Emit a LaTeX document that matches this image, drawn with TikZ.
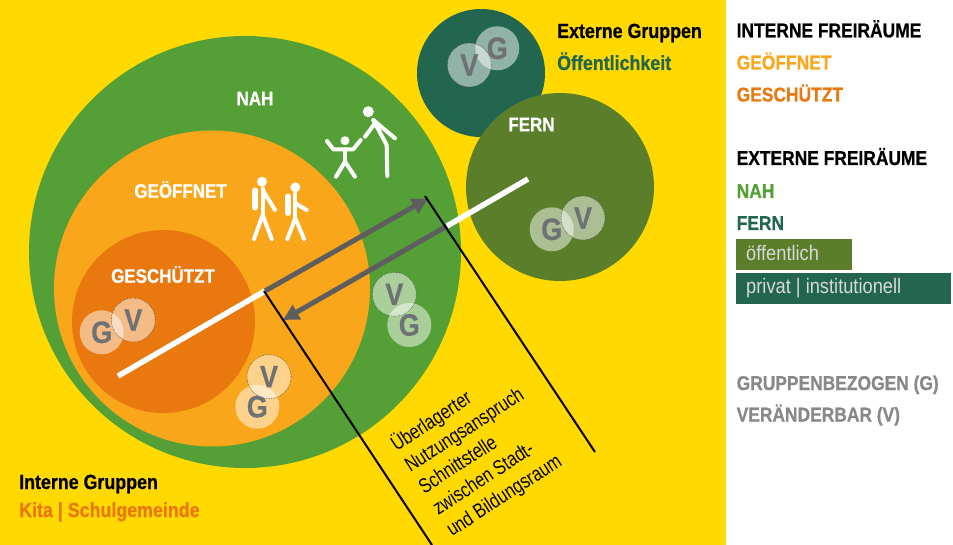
\documentclass[tikz,border=0pt]{standalone}
\usepackage{fontspec}
\setmainfont[FakeStretch=0.87,BoldFeatures={FakeBold=0.6}]{Liberation Sans}
\newfontfamily\narrowfont[FakeStretch=0.8]{Liberation Sans}
\usetikzlibrary{arrows.meta}
\definecolor{yel}{HTML}{FFD900}
\definecolor{nahg}{HTML}{55A036}
\definecolor{geo}{HTML}{F9A61A}
\definecolor{ges}{HTML}{E9780F}
\definecolor{dkg}{HTML}{23664F}
\definecolor{oli}{HTML}{5A7E2A}
\definecolor{ltr}{HTML}{6F7275}
\definecolor{gtx}{HTML}{87888A}
\definecolor{arr}{HTML}{5E5E5E}
\tikzset{
 disc/.style={circle,minimum size=#1,inner sep=0pt,outer sep=0pt},
 gc/.style={circle,minimum size=44pt,inner sep=0pt,fill=white,fill opacity=.5,text opacity=1,text=ltr,font=\bfseries\fontsize{31}{31}\selectfont},
 vc/.style={gc,draw=black!75,densely dotted,line width=.6pt,draw opacity=.85},
 captxt/.style={anchor=base west,font=\bfseries\fontsize{20}{20}\selectfont,inner sep=0pt},
 sml/.style={anchor=base west,font=\bfseries\fontsize{20.5}{20.5}\selectfont,inner sep=0pt},
 lbl/.style={text=white,font=\bfseries\fontsize{19.5}{19.5}\selectfont,inner sep=0pt},
 leg/.style={anchor=base west,text=white!85!black,font=\fontsize{21}{21}\selectfont,inner sep=0pt},
 fig/.style={draw=white,line width=4pt,line cap=round,line join=round},
 headc/.style={fill=white},
 wline/.style={draw=white,line width=5.5pt},
 garr/.style={draw=arr,line width=5pt,-{Triangle[length=16pt,width=16pt]},shorten >=0pt},
 bline/.style={draw=black,line width=2pt}
}
\begin{document}
\begin{tikzpicture}[x=1pt,y=-1pt]
\useasboundingbox (0,0) rectangle (953,545);
\fill[yel] (0,0) rectangle (726,545);
\fill[white] (726,0) rectangle (953,545);
% big discs
\node[disc=432pt,fill=nahg] (nah) at (245,252) {};
\node[disc=316pt,fill=geo] (geoe) at (212,288.5) {};
\node[disc=183pt,fill=ges] (gesc) at (163.5,321.5) {};
\node[disc=128pt,fill=dkg] (oeff) at (481,73) {};
\node[disc=188pt,fill=oli] (fern) at (560,187) {};
% coordinates
\coordinate (wa) at (118,376);
\coordinate (wb) at (265,291);
\coordinate (wc) at (447,226);
\coordinate (wd) at (528,179);
\coordinate (tipa) at (428,198.5);
\coordinate (tipb) at (283,320);
\coordinate (bla) at (264,291);
\coordinate (blb) at (432,545);
\coordinate (blc) at (425,196);
\coordinate (bld) at (595,452);
\draw[garr] (wb) -- (tipa);
\draw[garr] (wc) -- (tipb);
\draw[wline] (wa) -- (wb);
\draw[wline] (wc) -- (wd);
\draw[bline] (bla) -- (blb);
\draw[bline] (blc) -- (bld);
% small circles
\node[gc] (g1) at (101.7,332.3) {G};
\node[vc] (v1) at (133.3,320) {V};
\node[gc] (g2) at (257.3,406.7) {G};
\node[vc] (v2) at (269,376.7) {V};
\node[gc] (g3) at (409.3,325) {G};
\node[vc] (v3) at (394.3,294.3) {V};
\node[gc] (g4) at (497.3,48.3) {G};
\node[vc] (v4) at (469.3,65) {V};
\node[gc] (g5) at (551.7,229.3) {G};
\node[vc] (v5) at (583,218) {V};
% adult + child
\fill[headc] (368.3,111.7) circle (5.5pt);
\path[fig] (373.3,120) -- (386.7,145) -- (387.3,176);
\path[fig] (373.3,120) -- (395,138.3);
\path[fig] (375,123.3) -- (365,136.7);
\fill[headc] (345,140.7) circle (4.5pt);
\path[fig] (327,141) -- (333.3,149.3) -- (353.3,149.3) -- (360.7,140);
\path[fig] (345,149.3) -- (345,161.7);
\path[fig] (336,176.7) -- (345,161.7) -- (355,176.7);
% walkers
\fill[headc] (262,181.7) circle (5pt);
\path[fig] (262.7,188.3) -- (262.7,215);
\path[fig] (262.7,190) -- (275,210);
\path[fig] (254,239) -- (262.7,215) -- (271.7,239);
\path[draw=white,line width=6pt,line cap=round] (255,190.5) -- (255,207.5);
\fill[headc] (295.3,187.3) circle (5pt);
\path[fig] (295.3,193.3) -- (295.3,218.3);
\path[fig] (295.3,203.3) -- (306.7,210);
\path[fig] (287.3,239) -- (295.3,218.3) -- (304,239);
\path[draw=white,line width=6pt,line cap=round] (288.3,196.5) -- (288.3,213);
% circle labels
\node[lbl] (tnah) at (255,98.5) {NAH};
\node[lbl] (tgeo) at (180.5,189.5) {GEÖFFNET};
\node[lbl] (tges) at (163,274.5) {GESCHÜTZT};
\node[lbl] (tfern) at (531.5,124.5) {FERN};
% group labels
\node[sml,text=black] (ig) at (19,489) {Interne Gruppen};
\node[sml,text=ges] (ig2) at (19,517) {Kita | Schulgemeinde};
\node[sml,text=black] (eg) at (557,38) {Externe Gruppen};
\node[sml,text=dkg] (eg2) at (557,70) {Öffentlichkeit};
% rotated text
\node[rotate=33,anchor=north west,align=left,inner sep=0pt,font=\narrowfont\fontsize{20.5}{25.5}\selectfont] (ueb) at (387,437) {Überlagerter\\Nutzungsanspruch\\Schnittstelle\\zwischen Stadt-\\und Bildungsraum};
% legend
\node[captxt,text=black] (l1) at (736.5,37.3) {INTERNE FREIRÄUME};
\node[captxt,text=geo] (l2) at (736.5,69.5) {GEÖFFNET};
\node[captxt,text=ges] (l3) at (736.5,101.5) {GESCHÜTZT};
\node[captxt,text=black] (l4) at (736.5,165) {EXTERNE FREIRÄUME};
\node[captxt,text=nahg] (l5) at (736.5,198) {NAH};
\node[captxt,text=dkg] (l6) at (736.5,230) {FERN};
\fill[oli] (736,239) rectangle (852,270);
\fill[dkg] (736,273) rectangle (951,304);
\node[leg] (l7) at (746,261) {öffentlich};
\node[leg] (l8) at (746,294) {privat | institutionell};
\node[captxt,text=gtx] (l9) at (736.5,390) {GRUPPENBEZOGEN (G)};
\node[captxt,text=gtx] (l10) at (736.5,421.5) {VERÄNDERBAR (V)};
\end{tikzpicture}
\end{document}
